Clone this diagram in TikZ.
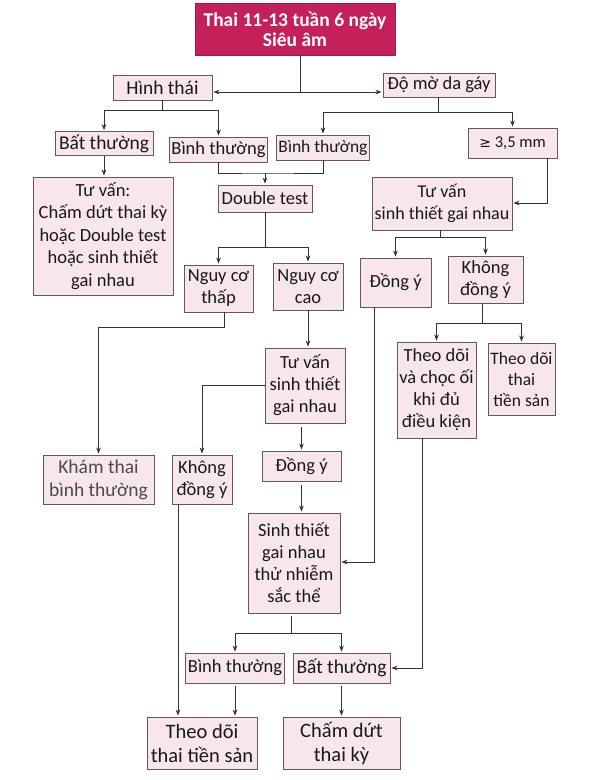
\documentclass[tikz,border=0pt]{standalone}
\usepackage{fontspec}
\setmainfont{Carlito}
\newfontfamily\symfont{DejaVu Sans}
\usetikzlibrary{arrows.meta,calc}
\definecolor{boxfill}{RGB}{248,230,237}
\definecolor{boxline}{RGB}{105,85,93}
\definecolor{titlefill}{RGB}{196,32,90}
\definecolor{lineclr}{RGB}{50,50,50}
\definecolor{txt}{RGB}{25,25,25}
\definecolor{txtlight}{RGB}{75,75,75}
\begin{document}
\begin{tikzpicture}[x=1pt,y=-1pt,
  box/.style={draw=boxline,fill=boxfill,line width=0.9pt,align=center,inner sep=2pt,
    text=txt,font=\fontsize{18.5}{22}\selectfont},
  titlebox/.style={draw=titlefill!80!black,fill=titlefill,line width=0.6pt,align=center,inner sep=2pt,
    text=white,font=\fontsize{19.5}{20}\selectfont\bfseries},
  ln/.style={draw=lineclr,line width=0.9pt},
  arr/.style={ln,-{Stealth[length=6pt,width=4.6pt]},shorten >=1pt},
  bigtxt/.style={font=\fontsize{20.5}{24}\selectfont},
  midtxt/.style={font=\fontsize{19.5}{23}\selectfont}]
\fill[white] (0,0) rectangle (602,780);
\useasboundingbox (0,0) rectangle (602,780);

% nodes
\node[titlebox,minimum width=200,minimum height=52] (title) at (295,29) {Thai 11-13 tuần 6 ngày\\Siêu âm};
\node[box,midtxt,minimum width=99,minimum height=25] (hinh) at (162.5,87.5) {Hình thái};
\node[box,minimum width=112,minimum height=24] (domo) at (439,85) {Độ mờ da gáy};
\node[box,midtxt,minimum width=98,minimum height=24] (bat1) at (104,143.5) {Bất thường};
\node[box,minimum width=97,minimum height=25] (binh1) at (218.5,149.5) {Bình thường};
\node[box,minimum width=90,minimum height=25,font=\fontsize{17.5}{20}\selectfont] (binh2) at (323,147.5) {Bình thường};
\node[box,minimum width=89,minimum height=30,font=\fontsize{16.5}{20}\selectfont] (ge35) at (512.5,143) {{\symfont\fontsize{14}{20}\selectfont ≥} 3,5 mm};
\node[box,minimum width=140,minimum height=118,font=\fontsize{18.5}{22.5}\selectfont] (tuvan1) at (103,236) {Tư vấn:\\Chấm dứt thai kỳ\\hoặc Double test\\hoặc sinh thiết\\gai nhau};
\node[box,minimum width=94,minimum height=27] (dtest) at (265,198.5) {Double test};
\node[box,minimum width=69,minimum height=47] (ncthap) at (218.5,288.5) {Nguy cơ\\thấp};
\node[box,minimum width=70,minimum height=47] (nccao) at (308,286.5) {Nguy cơ\\cao};
\node[box,minimum width=140,minimum height=53,font=\fontsize{18}{22}\selectfont] (tuvan2) at (442,203.5) {Tư vấn\\sinh thiết gai nhau};
\node[box,minimum width=71,minimum height=49] (dongy1) at (395.5,282.5) {Đồng ý};
\node[box,minimum width=75,minimum height=47] (khongdy1) at (485.5,279.5) {Không\\đồng ý};
\node[box,minimum width=79,minimum height=96] (theodoi1) at (436.5,390) {Theo dõi\\và chọc ối\\khi đủ\\điều kiện};
\node[box,minimum width=67,minimum height=72,font=\fontsize{17.5}{21}\selectfont] (theodoi2) at (521.5,379) {Theo dõi\\thai\\tiền sản};
\node[box,minimum width=80,minimum height=75] (tuvan3) at (305,385.5) {Tư vấn\\sinh thiết\\gai nhau};
\node[box,midtxt,minimum width=111,minimum height=49,text=txtlight] (kham) at (98.5,479.5) {Khám thai\\bình thường};
\node[box,minimum width=60,minimum height=49] (khongdy2) at (202,479.5) {Không\\đồng ý};
\node[box,minimum width=79,minimum height=30] (dongy2) at (301.5,466) {Đồng ý};
\node[box,minimum width=92,minimum height=100] (sinhthiet) at (294,563) {Sinh thiết\\gai nhau\\thử nhiễm\\sắc thể};
\node[box,minimum width=94,minimum height=30] (binh3) at (235,668) {Bình thường};
\node[box,midtxt,minimum width=97,minimum height=30] (bat3) at (341.5,668) {Bất thường};
\node[box,bigtxt,minimum width=110,minimum height=52] (theodoi3) at (202,743) {Theo dõi\\thai tiền sản};
\node[box,bigtxt,minimum width=117,minimum height=52] (chamdut) at (341.5,743) {Chấm dứt\\thai kỳ};

% junctions
\coordinate (j0) at (300,92);
\coordinate (j1) at (162,110);
\coordinate (j2) at (438,112);
\coordinate (j3) at (265,173);
\coordinate (j4) at (265,247);
\coordinate (j5) at (547,203);
\coordinate (j6) at (440,237);
\coordinate (j7) at (482,323);
\coordinate (j8) at (374,562);
\coordinate (j9) at (224,327);
\coordinate (j10) at (291,633);
\coordinate (j11) at (422,668);
\coordinate (j12) at (178,0);

% connectors
\draw[ln] (title.south -| j0) -- (j0);
\draw[arr] (j0) -- (hinh.east |- j0);
\draw[arr] (j0) -- (domo.west |- j0);

\draw[ln] (hinh.south -| j1) -- (j1);
\draw[arr] (j1) -| (bat1.north);
\draw[arr] (j1) -| (binh1.north);

\draw[ln] (domo.south -| j2) -- (j2);
\draw[arr] (j2) -| (binh2.north);
\draw[arr] (j2) -| (ge35.north);

\draw[arr] (bat1.south) -- (bat1.south |- tuvan1.north);
\draw[ln] (binh1.south) |- (j3) -| (binh2.south);
\draw[arr] (j3) -- (dtest.north);
\draw[ln] (dtest.south) -- (j4);
\draw[arr] (j4) -| (ncthap.north);
\draw[arr] (j4) -| (nccao.north);

\draw[arr] (ge35.south -| j5) -- (j5) -- (tuvan2.east |- j5);
\draw[ln] (tuvan2.south -| j6) -- (j6);
\draw[arr] (j6) -| (dongy1.north);
\draw[arr] (j6) -| (khongdy1.north);
\draw[ln] (khongdy1.south -| j7) -- (j7);
\draw[arr] (j7) -| (theodoi1.north);
\draw[arr] (j7) -| (theodoi2.north);

\draw[arr] (dongy1.south -| j8) -- (j8) -- (sinhthiet.east |- j8);
\draw[arr] (ncthap.south -| j9) -- (j9) -| (kham.north);
\draw[arr] (nccao.south) -- (nccao.south |- tuvan3.north);
\draw[arr] (tuvan3.west) -| (khongdy2.north);
\draw[arr,shorten <=4pt] (dongy2.north |- tuvan3.south) -- (dongy2.north);
\draw[arr,shorten <=4pt] (dongy2.south) -- (dongy2.south |- sinhthiet.north);
\draw[arr] (khongdy2.south -| j12) -- (theodoi3.north -| j12);

\draw[ln,shorten <=3pt] (sinhthiet.south -| j10) -- (j10);
\draw[arr] (j10) -| (binh3.north);
\draw[arr] (j10) -| (bat3.north);
\draw[arr,shorten <=3pt] (binh3.south) -- (binh3.south |- theodoi3.north);
\draw[arr,shorten <=3pt] (bat3.south) -- (bat3.south |- chamdut.north);
\draw[arr] (theodoi1.south -| j11) -- (j11) -- (bat3.east |- j11);
\end{tikzpicture}
\end{document}
